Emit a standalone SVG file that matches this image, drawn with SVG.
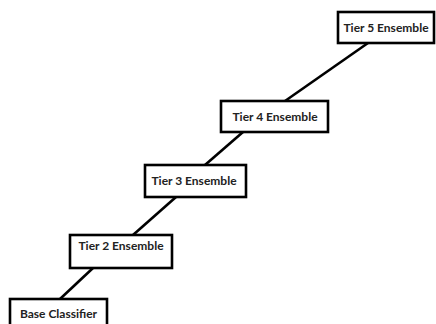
<svg xmlns="http://www.w3.org/2000/svg" width="436" height="324" viewBox="0 0 436 324">
<style>
.box{fill:#fff;stroke:#000;stroke-width:2.6}
.lbl{font-family:Lato,"Liberation Sans",sans-serif;font-weight:bold;font-size:12px;fill:#222;text-anchor:middle}
.conn{stroke:#000;stroke-width:2.6;fill:none}
</style>
<rect width="436" height="324" fill="#fff"/>
<g id="connectors">
<line class="conn" x1="60" y1="299" x2="93" y2="268"/>
<line class="conn" x1="133" y1="235" x2="176" y2="197"/>
<line class="conn" x1="205" y1="165" x2="243" y2="132"/>
<line class="conn" x1="285" y1="101" x2="368" y2="43"/>
</g>
<g id="base">
<rect class="box" x="10" y="299" width="97" height="30"/>
<text class="lbl" x="58.5" y="318">Base Classifier</text>
</g>
<g id="tier2">
<rect class="box" x="70" y="235" width="102" height="33"/>
<text class="lbl" x="121" y="250">Tier 2 Ensemble</text>
</g>
<g id="tier3">
<rect class="box" x="145" y="165" width="101" height="32"/>
<text class="lbl" x="194" y="185">Tier 3 Ensemble</text>
</g>
<g id="tier4">
<rect class="box" x="221" y="101" width="107" height="31"/>
<text class="lbl" x="275" y="121">Tier 4 Ensemble</text>
</g>
<g id="tier5">
<rect class="box" x="338" y="12" width="96" height="31"/>
<text class="lbl" x="386" y="32">Tier 5 Ensemble</text>
</g>
</svg>
